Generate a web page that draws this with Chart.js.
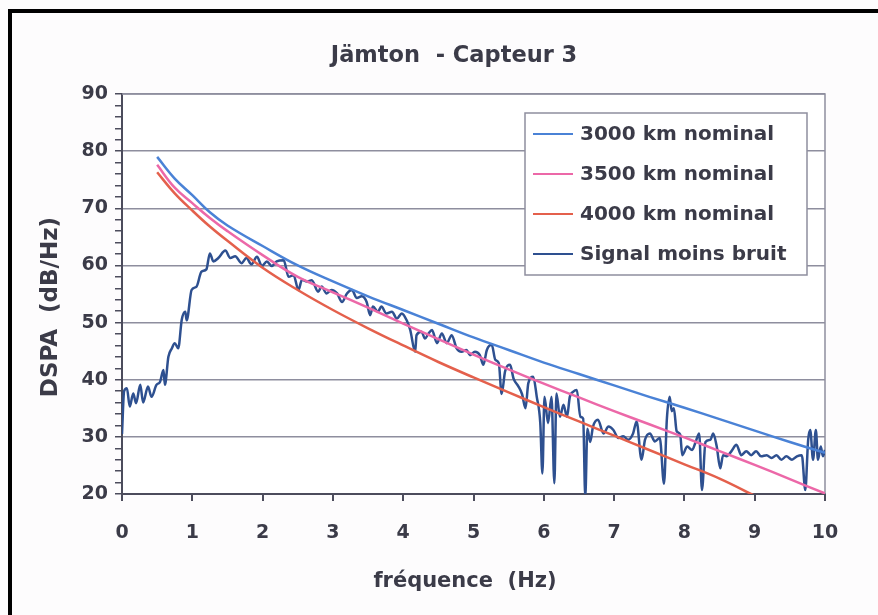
<!DOCTYPE html>
<html>
<head>
<meta charset="utf-8">
<script src="https://cdn.jsdelivr.net/npm/chart.js@4.4.1/dist/chart.umd.min.js"></script>
<style>
    html, body { margin: 0; padding: 0; background: #fff; }
    #wrap { width: 878px; height: 615px; position: relative; }
</style>
</head>
<body>
<div id="wrap"><canvas id="chart" width="878" height="615"></canvas></div>
<script>
// courbes nominales
const curveFreq = [0.5, 0.75, 1, 1.25, 1.5, 2, 2.5, 3, 3.5, 4, 4.5, 5, 5.5, 6, 6.5, 7, 7.5, 8, 8.5, 9, 9.5, 10];
const nominal3000 = [79, 75.2, 72.3, 69.3, 67, 63.4, 60, 57.2, 54.6, 52.2, 49.8, 47.4, 45.2, 43, 41, 39, 37, 35.1, 33.1, 31.1, 29.1, 27.2];
const nominal3500 = [77.6, 73.6, 70.9, 68.3, 66, 61.8, 58, 55.3, 52.6, 49.8, 47.1, 44.4, 41.8, 39.3, 36.9, 34.5, 32.2, 29.9, 27.5, 25.1, 22.6, 20.1];
const nominal4000 = [76.3, 72.6, 69.6, 66.8, 64.3, 59.6, 55.7, 52.2, 49, 46, 43.1, 40.4, 37.8, 35.2, 32.7, 30.2, 27.7, 25.2, 22.7, 19.7, null, null];

// signal moins bruit
const sigFreq = [0, 0.03, 0.07, 0.11, 0.16, 0.2, 0.26, 0.3, 0.37, 0.42, 0.49, 0.54, 0.59, 0.61, 0.66, 0.71, 0.75, 0.8, 0.85, 0.9,
    0.92, 0.99, 1.06, 1.13, 1.2, 1.25, 1.3, 1.37, 1.47, 1.54, 1.61, 1.7, 1.77, 1.84, 1.92, 1.99, 2.06, 2.13, 2.2, 2.3,
    2.37, 2.44, 2.51, 2.56, 2.63, 2.7, 2.79, 2.84, 2.91, 2.98, 3.06, 3.13, 3.2, 3.27, 3.34, 3.41, 3.48, 3.53, 3.57, 3.64,
    3.69, 3.76, 3.84, 3.91, 3.98, 4.05, 4.1, 4.17, 4.19, 4.26, 4.31, 4.36, 4.41, 4.48, 4.55, 4.62, 4.69, 4.76, 4.83, 4.9,
    4.95, 5.02, 5.09, 5.14, 5.19, 5.26, 5.31, 5.36, 5.4, 5.45, 5.52, 5.57, 5.64, 5.69, 5.74, 5.78, 5.85, 5.9, 5.95, 5.98,
    6.01, 6.06, 6.11, 6.15, 6.18, 6.23, 6.28, 6.33, 6.37, 6.42, 6.47, 6.52, 6.56, 6.59, 6.62, 6.66, 6.7, 6.77, 6.85, 6.92,
    6.99, 7.06, 7.13, 7.2, 7.27, 7.32, 7.39, 7.44, 7.51, 7.58, 7.65, 7.71, 7.75, 7.79, 7.82, 7.85, 7.89, 7.94, 7.97, 8.04,
    8.11, 8.16, 8.21, 8.25, 8.3, 8.37, 8.41, 8.46, 8.51, 8.55, 8.6, 8.67, 8.74, 8.81, 8.88, 8.95, 9.02, 9.09, 9.17, 9.24,
    9.31, 9.38, 9.45, 9.53, 9.6, 9.67, 9.72, 9.76, 9.79, 9.83, 9.87, 9.9, 9.94, 9.97, 10];
const sigDb = [30.5, 38, 38.5, 35.3, 37.6, 35.9, 39.1, 36, 38.8, 37, 39.1, 39.6, 41.7, 39.1, 44, 45.5, 46.4, 45.5, 50.5, 51.9,
    50.4, 55.7, 56.3, 58.9, 59.3, 62.1, 60.7, 61.3, 62.6, 61.3, 61.6, 60.4, 61.3, 60.2, 61.5, 59.9, 60.7, 59.9, 60.7, 60.9,
    58, 58.3, 55.7, 57.5, 57.2, 57.4, 55.4, 56.3, 55.1, 55.7, 55.1, 53.6, 55.1, 55.7, 54.3, 54.6, 53.6, 51.3, 52.8, 51.9,
    52.8, 51.6, 51.9, 50.7, 51.6, 50.4, 48.7, 44.9, 47.8, 48.4, 47.2, 48.1, 48.7, 46.4, 48.1, 46.4, 47.8, 45.5, 44.9, 45.2,
    44.3, 44.9, 44.3, 42.6, 45.2, 46.1, 43.5, 42.9, 37.5, 41.5, 42.6, 40.2, 38.8, 37.5, 35, 39.4, 40.5, 37, 32.4, 23.6,
    37, 32.4, 37, 21.9, 37.6, 33.5, 35.6, 33.5, 37, 37.9, 38.2, 33.5, 33.2, 19.5, 31.4, 29.1, 31.8, 33, 30.6, 31.8,
    31.2, 29.8, 30.1, 29.5, 30.6, 32.7, 26, 29.5, 30.6, 29.2, 29.8, 21.8, 33, 37, 34.5, 35, 31, 30.4, 26.8, 28.3,
    27.7, 29.1, 30.6, 20.7, 29.1, 29.5, 30.6, 28.3, 24.5, 26.8, 26.6, 27.5, 28.6, 26.8, 27.5, 26.8, 27.5, 26.6, 26.8, 26.3,
    26.8, 26, 26.6, 26, 26.6, 26.8, 20.7, 29.4, 31.2, 26, 31.2, 26, 28.3, 26.6, 27.7];

const yTicks = [20, 30, 40, 50, 60, 70, 80, 90];
const seriesLabels = ['3000 km nominal', '3500 km nominal', '4000 km nominal', 'Signal moins bruit'];
const seriesColors = ['#4a82d6', '#ec68a8', '#e4604c', '#2e5090'];

const TEXT = '#3b3b48';
const GRID = '#8e8e9e';
const AXIS = '#4c4c5c';
const FONT = 'DejaVu Sans';

function toPoints(xs, ys) {
    return xs.map((x, i) => ({ x: x, y: ys[i] }));
}

// cadre, titres et légende dessinés à la main
const decorPlugin = {
    id: 'decor',
    beforeDraw(chart) {
        const ctx = chart.ctx;
        const a = chart.chartArea;
        ctx.save();
        ctx.fillStyle = '#fdfcfd';
        ctx.fillRect(0, 0, chart.width, chart.height);
        ctx.fillStyle = '#000';
        ctx.fillRect(8, 9, chart.width, 4);
        ctx.fillRect(8, 9, 4, chart.height);
        ctx.fillStyle = '#fff';
        ctx.fillRect(a.left, a.top, a.right - a.left, a.bottom - a.top);
        ctx.restore();
    },
    beforeDatasetsDraw(chart) {
        const ctx = chart.ctx;
        const a = chart.chartArea;
        ctx.save();
        ctx.strokeStyle = GRID;
        ctx.lineWidth = 1.5;
        ctx.beginPath();
        ctx.moveTo(a.left, a.top);
        ctx.lineTo(a.right, a.top);
        ctx.lineTo(a.right, a.bottom);
        ctx.stroke();
        ctx.restore();
    },
    afterDraw(chart) {
        const ctx = chart.ctx;
        ctx.save();
        ctx.fillStyle = TEXT;
        ctx.textAlign = 'center';
        ctx.textBaseline = 'middle';
        ctx.font = 'bold 22.5px "' + FONT + '"';
        ctx.fillText('Jämton  - Capteur 3', 454, 56);
        ctx.font = 'bold 21px "' + FONT + '"';
        ctx.fillText('fréquence  (Hz)', 465, 582);
        ctx.font = 'bold 23px "' + FONT + '"';
        ctx.translate(51, 307);
        ctx.rotate(-Math.PI / 2);
        ctx.fillText('DSPA  (dB/Hz)', 0, 0);
        ctx.restore();

        // légende
        const bx = 525, by = 113, bw = 282, bh = 162;
        ctx.save();
        ctx.fillStyle = '#fff';
        ctx.fillRect(bx, by, bw, bh);
        ctx.strokeStyle = GRID;
        ctx.lineWidth = 1.5;
        ctx.strokeRect(bx, by, bw, bh);
        ctx.font = 'bold 20px "' + FONT + '"';
        ctx.textAlign = 'left';
        ctx.textBaseline = 'middle';
        chart.data.datasets.forEach((ds, i) => {
            const y = 134 + i * 40;
            ctx.strokeStyle = ds.borderColor;
            ctx.lineWidth = 2;
            ctx.beginPath();
            ctx.moveTo(533, y);
            ctx.lineTo(573, y);
            ctx.stroke();
            ctx.fillStyle = TEXT;
            ctx.fillText(ds.label, 580, y + 1);
        });
        ctx.restore();
    }
};

const curveStyle = {
    borderWidth: 2.5,
    pointRadius: 0,
    tension: 0.4,
    fill: false
};

new Chart(document.getElementById('chart'), {
    type: 'line',
    data: {
        datasets: [
            Object.assign({ label: seriesLabels[0], data: toPoints(curveFreq, nominal3000), borderColor: seriesColors[0] }, curveStyle),
            Object.assign({ label: seriesLabels[1], data: toPoints(curveFreq, nominal3500), borderColor: seriesColors[1] }, curveStyle),
            Object.assign({ label: seriesLabels[2], data: toPoints(curveFreq, nominal4000), borderColor: seriesColors[2] }, curveStyle),
            {
                label: seriesLabels[3],
                data: toPoints(sigFreq, sigDb),
                borderColor: seriesColors[3],
                borderWidth: 2.5,
                pointRadius: 0,
                cubicInterpolationMode: 'monotone',
                fill: false
            }
        ]
    },
    options: {
        responsive: false,
        animation: false,
        events: [],
        layout: { padding: { top: 94, right: 53, left: 0, bottom: 0 } },
        plugins: {
            legend: { display: false },
            title: { display: false },
            tooltip: { enabled: false }
        },
        scales: {
            x: {
                type: 'linear',
                min: 0,
                max: 10,
                afterFit: (scale) => { scale.height = 121; },
                ticks: {
                    stepSize: 1,
                    color: TEXT,
                    padding: 21,
                    font: { family: FONT, size: 19, weight: 'bold' }
                },
                grid: { color: 'transparent', tickColor: AXIS, tickLength: 7, lineWidth: 2 },
                border: { color: AXIS, width: 2 }
            },
            y: {
                type: 'linear',
                min: yTicks[0],
                max: yTicks[yTicks.length - 1],
                afterFit: (scale) => { scale.width = 122; },
                ticks: {
                    stepSize: 2,
                    autoSkip: false,
                    color: TEXT,
                    padding: 7,
                    font: { family: FONT, size: 19, weight: 'bold' },
                    callback: (v) => (yTicks.includes(v) ? v : '')
                },
                grid: {
                    color: (c) => (c.tick && yTicks.includes(c.tick.value) ? GRID : 'transparent'),
                    lineWidth: 1.5,
                    tickColor: AXIS,
                    tickLength: 7
                },
                border: { color: AXIS, width: 2 }
            }
        }
    },
    plugins: [decorPlugin]
});
</script>
</body>
</html>
